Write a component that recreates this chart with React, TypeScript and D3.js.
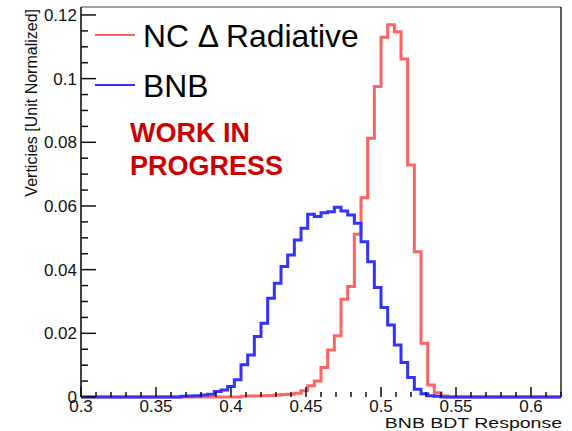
import React from "react";
import * as d3 from "d3";

// histogram binning of the BDT response (72 bins between 0.3 and 0.62)
const binRange = [0.3, 0.62];
const nBins = 72;

// NC Delta radiative, unit normalized
const ncDeltaValues = [
  0, 0, 0, 0, 0, 0, 0, 0, 0, 0, 0, 0, 0, 0, 0, 0, 0, 0, 0, 0, 0, 0, 0, 0,
  0.0002, 0.0003, 0.0003, 0.0004, 0.0005, 0.0006, 0.0008, 0.0009, 0.0012, 0.002,
  0.0035, 0.005, 0.0093, 0.0148, 0.0192, 0.0307, 0.0347, 0.0511, 0.0626, 0.0813,
  0.0975, 0.113, 0.1169, 0.1147, 0.1062, 0.0729, 0.0456, 0.0169, 0.0038, 0.0013,
  0.0003,
  0, 0, 0, 0, 0, 0, 0, 0, 0, 0, 0, 0, 0, 0, 0, 0, 0,
];

// BNB, unit normalized
const bnbValues = [
  0, 0, 0, 0, 0, 0, 0, 0, 0, 0, 0, 0, 0, 0, 0,
  0.0002, 0.0003, 0.0004, 0.0006, 0.0009, 0.0017, 0.0022, 0.0033, 0.0054, 0.0101,
  0.0132, 0.019, 0.0232, 0.031, 0.0357, 0.041, 0.0446, 0.0493, 0.053, 0.0574,
  0.0567, 0.0579, 0.0582, 0.0596, 0.0584, 0.0572, 0.0546, 0.0488, 0.0425, 0.0344,
  0.0281, 0.0226, 0.0163, 0.0108, 0.0061, 0.0024, 0.001, 0.0004, 0.0002,
  0, 0, 0, 0, 0, 0, 0, 0, 0, 0, 0, 0, 0, 0, 0, 0, 0, 0,
];

const xMajorTicks = [0.3, 0.35, 0.4, 0.45, 0.5, 0.55, 0.6];
const yMajorTicks = [0, 0.02, 0.04, 0.06, 0.08, 0.1, 0.12];
const legendLabels = ["NC \u0394 Radiative", "BNB"];
const stampLines = ["WORK IN", "PROGRESS"];

const font = "'Liberation Sans', Arial, Helvetica, sans-serif";

const App = () => {
  const width = 572;
  const height = 431;
  const left = 81;
  const right = 561;
  const top = 7;
  const bottom = 397;

  const x = d3.scaleLinear().domain(binRange).range([left, right]);
  const y = d3.scaleLinear().domain([0, 0.1225]).range([bottom, top]);

  const binWidth = (binRange[1] - binRange[0]) / nBins;

  const stepPath = (values: number[]) => {
    const pts: [number, number][] = values.map((v, i) => [binRange[0] + i * binWidth, v]);
    pts.push([binRange[1], values[values.length - 1]]);
    return d3
      .line<[number, number]>()
      .x((d) => x(d[0]))
      .y((d) => y(d[1]))
      .curve(d3.curveStepAfter)(pts) as string;
  };

  const xMinor = d3.range(0.3, 0.6201, 0.01).filter(
    (t) => !xMajorTicks.some((m) => Math.abs(m - t) < 1e-6)
  );
  const yMinor = d3.range(0, 0.1201, 0.005).filter(
    (t) => !yMajorTicks.some((m) => Math.abs(m - t) < 1e-6)
  );

  const series = [
    { label: legendLabels[0], values: ncDeltaValues, color: "#ff6464" },
    { label: legendLabels[1], values: bnbValues, color: "#3333ff" },
  ];

  return (
    <svg
      width={width}
      height={height}
      style={{ position: "absolute", left: 0, top: 0, background: "white" }}
      fontFamily={font}
    >
      <rect width={width} height={height} fill="white" />

      {/* frame */}
      <line x1={left} x2={right} y1={top} y2={top} stroke="#444" strokeWidth={1} />
      <line x1={right} x2={right} y1={top} y2={bottom} stroke="#222" strokeWidth={1.5} />

      {/* histograms */}
      {series.map((s) => (
        <path
          key={s.label}
          d={stepPath(s.values)}
          fill="none"
          stroke={s.color}
          strokeWidth={3}
          strokeLinejoin="miter"
        />
      ))}

      {/* y axis */}
      <line x1={left} x2={left} y1={top} y2={bottom} stroke="#111" strokeWidth={1.6} />
      {yMajorTicks.map((t) => (
        <g key={"ym" + t}>
          <line x1={left} x2={left + 15} y1={y(t)} y2={y(t)} stroke="#111" strokeWidth={1.5} />
          <text x={77} y={y(t)} dy="0.36em" textAnchor="end" fontSize={17} fill="#111">
            {String(+t.toFixed(2))}
          </text>
        </g>
      ))}
      {yMinor.map((t) => (
        <line key={"yn" + t} x1={left} x2={left + 7} y1={y(t)} y2={y(t)} stroke="#111" strokeWidth={1.5} />
      ))}
      <text
        transform={`translate(37, ${top + 2}) rotate(-90)`}
        textAnchor="end"
        fontSize={16}
        fill="#111"
      >
        Verticies [Unit Normalized]
      </text>

      {/* x axis */}
      {xMajorTicks.map((t) => (
        <g key={"xm" + t}>
          <line x1={x(t)} x2={x(t)} y1={bottom} y2={bottom - 10} stroke="#111" strokeWidth={1.5} />
          <text x={x(t)} y={411.5} textAnchor="middle" fontSize={17} fill="#111">
            {String(+t.toFixed(2))}
          </text>
        </g>
      ))}
      {xMinor.map((t) => (
        <line key={"xn" + t} x1={x(t)} x2={x(t)} y1={bottom} y2={bottom - 5} stroke="#111" strokeWidth={1.5} />
      ))}
      <text
        transform="translate(562, 428) scale(1.3, 1)"
        textAnchor="end"
        fontSize={15}
        fill="#111"
      >
        BNB BDT Response
      </text>

      {/* legend */}
      {series.map((s, i) => (
        <g key={"lg" + s.label} transform={`translate(0, ${35 + i * 50})`}>
          <line x1={95} x2={135} y1={0} y2={0} stroke={s.color} strokeWidth={2} />
          <text x={143} y={12} fontSize={31.8} fill="#000">
            {s.label}
          </text>
        </g>
      ))}

      {/* stamp */}
      {stampLines.map((l, i) => (
        <text key={l} x={130} y={141.5 + i * 33.5} fontSize={27} fontWeight="bold" fill="#cc0000">
          {l}
        </text>
      ))}
    </svg>
  );
};

export default App;
